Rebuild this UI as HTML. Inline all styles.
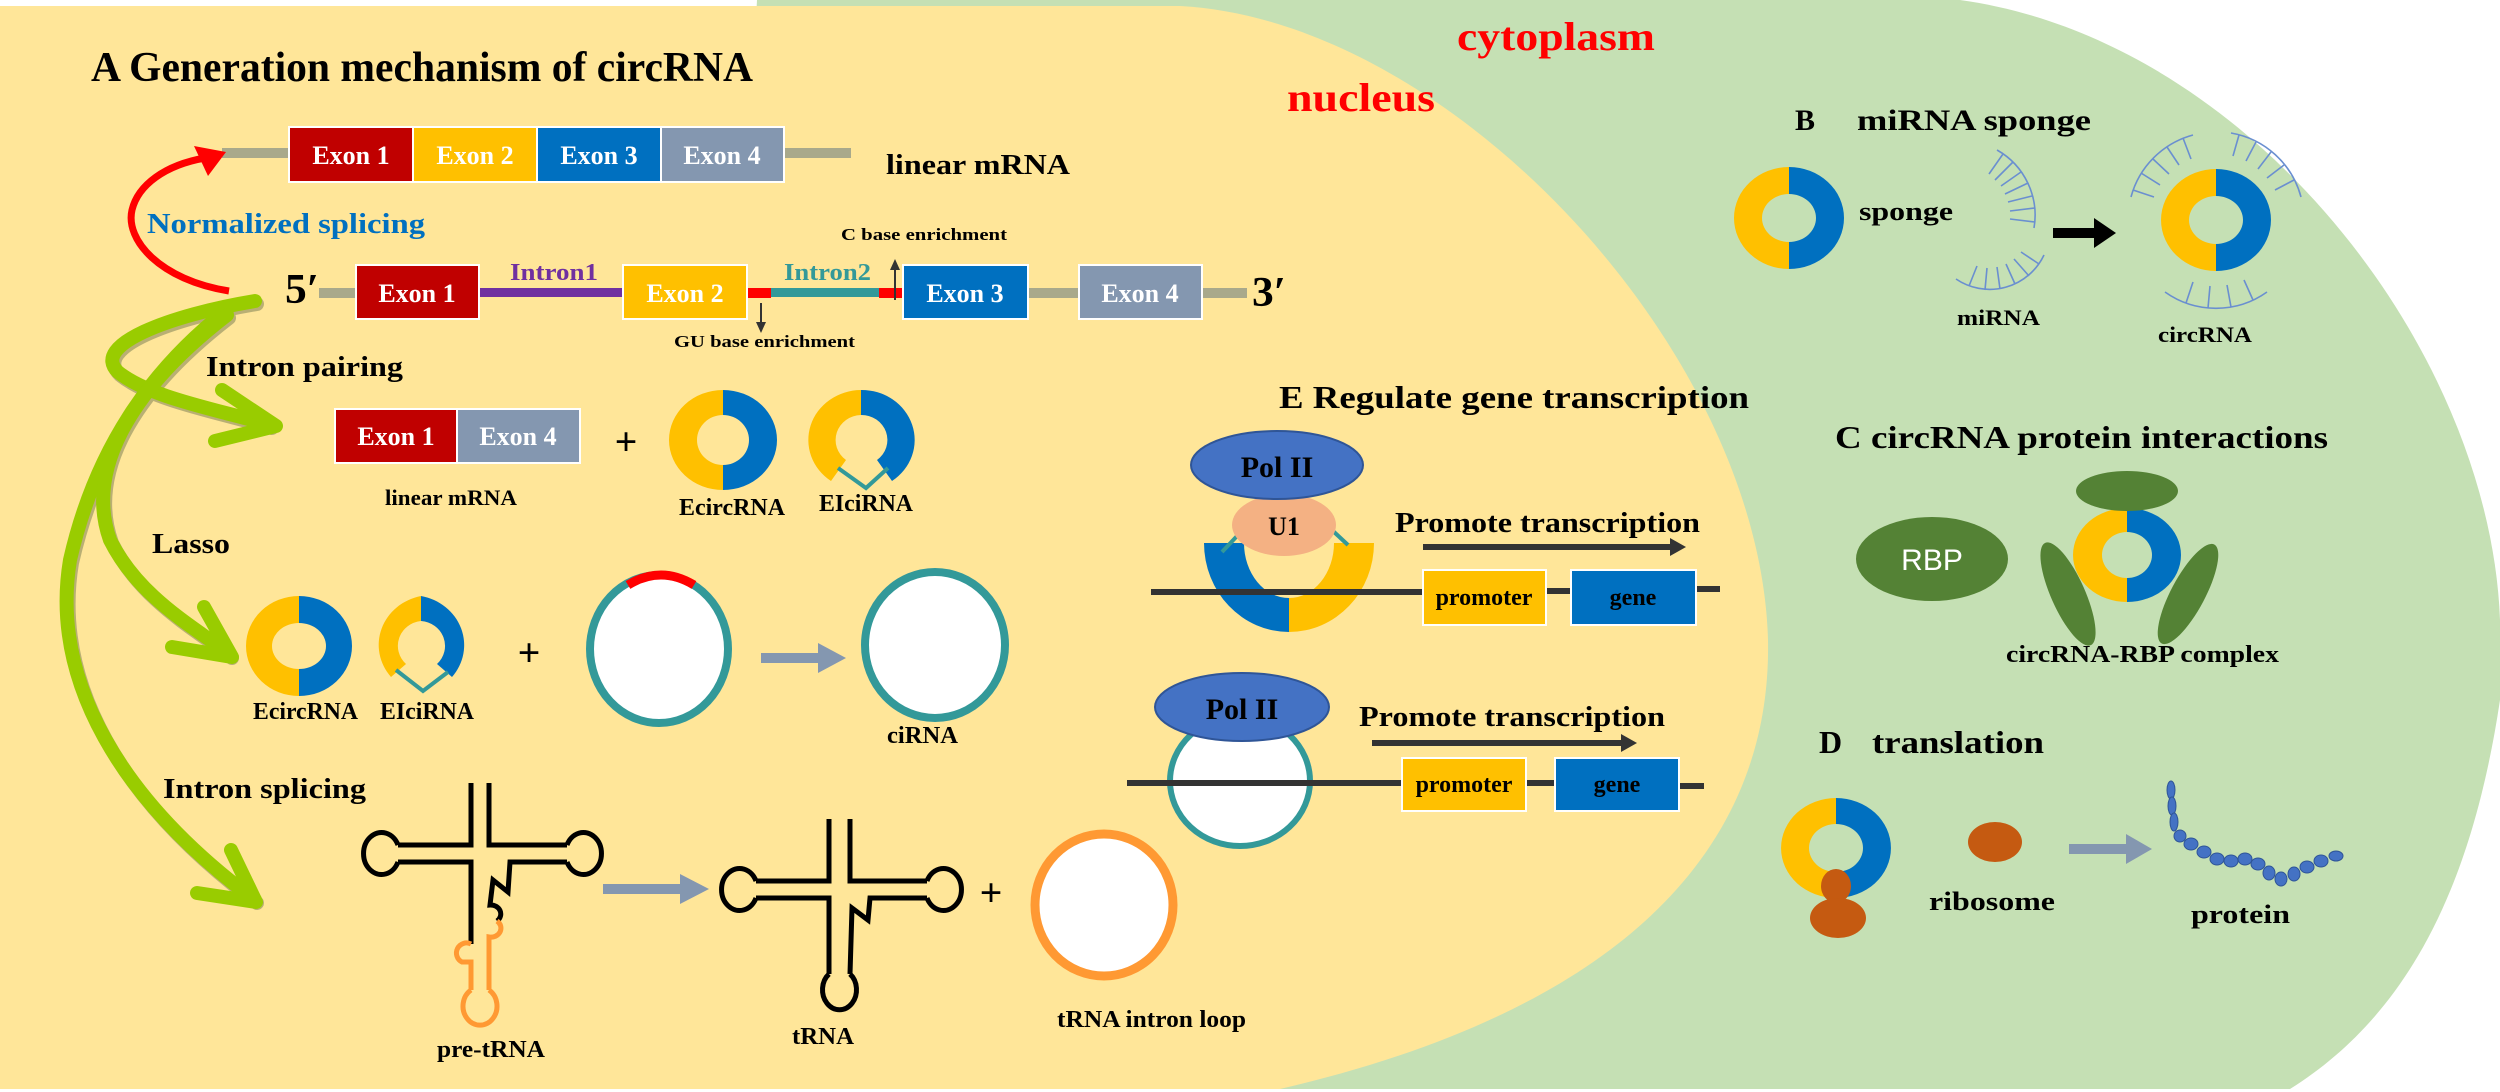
<!DOCTYPE html>
<html><head><meta charset="utf-8"><style>
html,body{margin:0;padding:0;background:#fff;}
svg{display:block;}
text{font-family:"Liberation Serif",serif;font-weight:bold;}
</style></head><body>
<svg width="2500" height="1092" viewBox="0 0 2500 1092" xmlns="http://www.w3.org/2000/svg">
<rect width="2500" height="1092" fill="#fff"/>
<!-- green -->
<path d="M757,0 L1960,0 C2250,40 2490,350 2500,620 L2500,700 C2470,900 2400,1020 2290,1089 L700,1089 Z" fill="#C5E0B4"/>
<!-- yellow -->
<path d="M0,6 L1180,6 C1450,20 1760,350 1768,640 C1772,850 1620,1010 1280,1089 L0,1089 Z" fill="#FFE699"/>

<g text-anchor="start" lengthAdjust="spacingAndGlyphs">
<text x="91" y="81" font-size="42" textLength="662" lengthAdjust="spacingAndGlyphs">A Generation mechanism of circRNA</text>
<text x="1457" y="50" font-size="40" fill="#FF0000" textLength="198" lengthAdjust="spacingAndGlyphs">cytoplasm</text>
<text x="1287" y="111" font-size="40" fill="#FF0000" textLength="148" lengthAdjust="spacingAndGlyphs">nucleus</text>
</g>

<!-- top linear mRNA -->
<rect x="222" y="148" width="67" height="10" fill="#A9A98B"/>
<rect x="784" y="148" width="67" height="10" fill="#A9A98B"/>
<g stroke="#fff" stroke-width="2">
<rect x="289" y="127" width="124" height="55" fill="#C00000"/>
<rect x="413" y="127" width="124" height="55" fill="#FFC000"/>
<rect x="537" y="127" width="124" height="55" fill="#0070C0"/>
<rect x="661" y="127" width="123" height="55" fill="#8497B0"/>
</g>
<g fill="#fff" font-size="26" text-anchor="middle">
<text x="351" y="164" font-family="Liberation Serif" font-weight="bold">Exon 1</text>
<text x="475" y="164">Exon 2</text>
<text x="599" y="164">Exon 3</text>
<text x="722" y="164">Exon 4</text>
</g>
<text x="886" y="174" font-size="28" textLength="184" lengthAdjust="spacingAndGlyphs">linear mRNA</text>

<!-- red arrow -->
<path d="M229,291 C160,280 125,240 132,210 C138,185 165,165 205,158" fill="none" stroke="#FF0000" stroke-width="7"/>
<polygon points="226,152 194,146 208,176" fill="#FF0000"/>
<text x="147" y="233" font-size="28" fill="#0070C0" textLength="278" lengthAdjust="spacingAndGlyphs">Normalized splicing</text>

<!-- second row -->
<text x="285" y="303" font-size="42" textLength="34" lengthAdjust="spacingAndGlyphs">5′</text>
<rect x="319" y="288" width="37" height="10" fill="#A9A98B"/>
<rect x="479" y="288" width="144" height="9" fill="#7030A0"/>
<rect x="747" y="288" width="24" height="10" fill="#FF0000"/>
<rect x="771" y="288" width="108" height="9" fill="#339999"/>
<rect x="879" y="288" width="24" height="10" fill="#FF0000"/>
<rect x="1028" y="288" width="51" height="10" fill="#A9A98B"/>
<rect x="1202" y="288" width="45" height="10" fill="#A9A98B"/>
<g stroke="#fff" stroke-width="2">
<rect x="356" y="265" width="123" height="54" fill="#C00000"/>
<rect x="623" y="265" width="124" height="54" fill="#FFC000"/>
<rect x="903" y="265" width="125" height="54" fill="#0070C0"/>
<rect x="1079" y="265" width="123" height="54" fill="#8497B0"/>
</g>
<g fill="#fff" font-size="26" text-anchor="middle">
<text x="417" y="302">Exon 1</text>
<text x="685" y="302">Exon 2</text>
<text x="965" y="302">Exon 3</text>
<text x="1140" y="302">Exon 4</text>
</g>
<text x="1252" y="306" font-size="42" textLength="34" lengthAdjust="spacingAndGlyphs">3′</text>
<text x="510" y="280" font-size="24" fill="#7030A0" textLength="88" lengthAdjust="spacingAndGlyphs">Intron1</text>
<text x="784" y="280" font-size="24" fill="#339999" textLength="87" lengthAdjust="spacingAndGlyphs">Intron2</text>
<text x="841" y="240" font-size="17" textLength="166" lengthAdjust="spacingAndGlyphs">C base enrichment</text>
<text x="674" y="347" font-size="17" textLength="181" lengthAdjust="spacingAndGlyphs">GU base enrichment</text>
<line x1="895" y1="300" x2="895" y2="268" stroke="#333" stroke-width="2"/>
<polygon points="895,259 890,270 900,270" fill="#333"/>
<line x1="761" y1="303" x2="761" y2="324" stroke="#333" stroke-width="2"/>
<polygon points="761,333 756,322 766,322" fill="#333"/>

<!-- green arrows -->
<g fill="none" stroke="#8C8C5C" stroke-width="14" stroke-linecap="round" stroke-linejoin="round" transform="translate(2,3)" opacity="0.6">
<path d="M255,301 C170,315 90,345 118,372 C150,398 220,410 270,425"/>
<path d="M227,310 C150,370 95,450 70,560 C50,680 120,800 255,900"/>
<path d="M227,315 C130,390 85,470 110,540 C140,600 200,630 230,655"/>
</g>
<g fill="none" stroke="#99CC00" stroke-width="14" stroke-linecap="round" stroke-linejoin="round">
<path d="M255,301 C170,315 90,345 118,372 C150,398 220,410 270,425"/>
<polyline points="222,390 276,426 215,441"/>
<path d="M227,310 C150,370 95,450 70,560 C50,680 120,800 255,900"/>
<polyline points="231,850 256,902 197,893"/>
<path d="M227,315 C130,390 85,470 110,540 C140,600 200,630 230,655"/>
<polyline points="204,607 232,657 172,647"/>
</g>

<text x="206" y="376" font-size="28" textLength="197" lengthAdjust="spacingAndGlyphs">Intron pairing</text>
<g stroke="#fff" stroke-width="2">
<rect x="335" y="409" width="122" height="54" fill="#C00000"/>
<rect x="457" y="409" width="123" height="54" fill="#8497B0"/>
</g>
<g fill="#fff" font-size="26" text-anchor="middle">
<text x="396" y="445">Exon 1</text>
<text x="518" y="445">Exon 4</text>
</g>
<text x="626" y="455" font-size="40" text-anchor="middle">+</text>
<!-- EcircRNA -->
<path d="M723,390 A54 50 0 0 0 723,490 L723,465 A26 25 0 0 1 723,415 Z" fill="#FFC000"/>
<path d="M723,390 A54 50 0 0 1 723,490 L723,465 A26 25 0 0 0 723,415 Z" fill="#0070C0"/>
<!-- EIciRNA -->
<path d="M861,390 A53 50 0 0 0 831,481 L846,460 A26 25 0 0 1 861,415 Z" fill="#FFC000"/>
<path d="M861,390 A53 50 0 0 1 892,481 L877,460 A26 25 0 0 0 861,415 Z" fill="#0070C0"/>
<polyline points="838,468 866,488 888,468" fill="none" stroke="#339999" stroke-width="4"/>
<text x="385" y="505" font-size="22" textLength="132" lengthAdjust="spacingAndGlyphs">linear mRNA</text>
<text x="679" y="515" font-size="24" textLength="106" lengthAdjust="spacingAndGlyphs">EcircRNA</text>
<text x="819" y="511" font-size="24" textLength="94" lengthAdjust="spacingAndGlyphs">EIciRNA</text>

<!-- Lasso -->
<text x="152" y="553" font-size="28" textLength="78" lengthAdjust="spacingAndGlyphs">Lasso</text>
<path d="M299,596 A53 50 0 0 0 299,696 L299,669 A27 23 0 0 1 299,623 Z" fill="#FFC000"/>
<path d="M299,596 A53 50 0 0 1 299,696 L299,669 A27 23 0 0 0 299,623 Z" fill="#0070C0"/>
<path d="M421,596 A53 50 0 0 0 391,677 L406,664 A26 25 0 0 1 421,621 Z" fill="#FFC000"/>
<path d="M421,596 A53 50 0 0 1 452,677 L437,664 A26 25 0 0 0 421,621 Z" fill="#0070C0"/>
<polyline points="396,670 423,691 448,672" fill="none" stroke="#339999" stroke-width="4"/>
<text x="253" y="719" font-size="24" textLength="105" lengthAdjust="spacingAndGlyphs">EcircRNA</text>
<text x="380" y="719" font-size="24" textLength="94" lengthAdjust="spacingAndGlyphs">EIciRNA</text>
<text x="529" y="666" font-size="40" text-anchor="middle">+</text>
<ellipse cx="659" cy="649" rx="69" ry="74" fill="#fff" stroke="#339999" stroke-width="8"/>
<path d="M628,585 Q661,565 694,585" fill="none" stroke="#FF0000" stroke-width="9"/>
<rect x="761" y="653" width="60" height="10" fill="#8497B0"/>
<polygon points="818,643 846,658 818,673" fill="#8497B0"/>
<ellipse cx="935" cy="645" rx="70" ry="73" fill="#fff" stroke="#339999" stroke-width="8"/>
<text x="887" y="743" font-size="24" textLength="71" lengthAdjust="spacingAndGlyphs">ciRNA</text>

<!-- intron splicing -->
<text x="163" y="798" font-size="28" textLength="203" lengthAdjust="spacingAndGlyphs">Intron splicing</text>
<g fill="none" stroke="#000" stroke-width="5" stroke-linejoin="miter">
<path d="M471,783 L471,845 L398,845"/>
<path d="M398,845 A18 21 0 1 0 398,862"/>
<path d="M398,862 L471,862 L471,944"/>
<path d="M489,783 L489,845 L567,845"/>
<path d="M567,845 A18 21 0 1 1 567,862"/>
<path d="M567,862 L510,862 L508,892 L493,880 L490,905 A10 9 0 0 1 497,921"/>
</g>
<g fill="none" stroke="#FF9933" stroke-width="5">
<path d="M497,921 A10 9 0 0 1 489,937 L489,990"/>
<path d="M471,944 A9 9 0 0 0 462,962 L471,962 L471,990"/>
<path d="M471,990 A17 19 0 1 0 489,990"/>
</g>
<rect x="603" y="884" width="80" height="10" fill="#8497B0"/>
<polygon points="680,874 709,889 680,904" fill="#8497B0"/>
<g fill="none" stroke="#000" stroke-width="5">
<path d="M829,819 L829,881 L756,881"/>
<path d="M756,881 A18 21 0 1 0 756,898"/>
<path d="M756,898 L829,898 L829,974"/>
<path d="M850,819 L850,881 L927,881"/>
<path d="M927,881 A18 21 0 1 1 927,898"/>
<path d="M927,898 L870,898 L868,920 L852,908 L850,974"/>
<path d="M829,974 A17 20 0 1 0 850,974"/>
</g>
<text x="991" y="906" font-size="40" text-anchor="middle">+</text>
<ellipse cx="1104" cy="905" rx="69" ry="71" fill="#fff" stroke="#FF9933" stroke-width="9"/>
<text x="437" y="1057" font-size="24" textLength="108" lengthAdjust="spacingAndGlyphs">pre-tRNA</text>
<text x="792" y="1044" font-size="24" textLength="62" lengthAdjust="spacingAndGlyphs">tRNA</text>
<text x="1057" y="1027" font-size="24" textLength="189" lengthAdjust="spacingAndGlyphs">tRNA intron loop</text>

<!-- E -->
<text x="1279" y="408" font-size="32" textLength="470" lengthAdjust="spacingAndGlyphs">E Regulate gene transcription</text>
<path d="M1204,543 A85 89 0 0 0 1289,632 L1289,598 A45 55 0 0 1 1244,543 Z" fill="#0070C0"/>
<path d="M1374,543 A85 89 0 0 1 1289,632 L1289,598 A45 55 0 0 0 1334,543 Z" fill="#FFC000"/>
<line x1="1222" y1="552" x2="1238" y2="535" stroke="#339999" stroke-width="4"/>
<line x1="1333" y1="531" x2="1348" y2="545" stroke="#339999" stroke-width="4"/>
<ellipse cx="1284" cy="525" rx="52" ry="31" fill="#F4B183"/>
<ellipse cx="1277" cy="465" rx="86" ry="34" fill="#4472C4" stroke="#2F5597" stroke-width="2"/>
<text x="1277" y="477" font-size="30" text-anchor="middle">Pol II</text>
<text x="1284" y="535" font-size="26" text-anchor="middle">U1</text>
<rect x="1151" y="589" width="272" height="6" fill="#333"/>
<rect x="1546" y="588" width="25" height="6" fill="#333"/>
<rect x="1696" y="586" width="24" height="6" fill="#333"/>
<rect x="1423" y="570" width="123" height="55" fill="#FFC000" stroke="#fff" stroke-width="2"/>
<rect x="1571" y="570" width="125" height="55" fill="#0070C0" stroke="#fff" stroke-width="2"/>
<text x="1484" y="605" font-size="24" text-anchor="middle">promoter</text>
<text x="1633" y="605" font-size="24" text-anchor="middle">gene</text>
<text x="1395" y="532" font-size="28" textLength="305" lengthAdjust="spacingAndGlyphs">Promote transcription</text>
<rect x="1423" y="544" width="250" height="6" fill="#333"/>
<polygon points="1670,538 1686,547 1670,556" fill="#333"/>

<ellipse cx="1240" cy="781" rx="70" ry="65" fill="#fff" stroke="#339999" stroke-width="6"/>
<ellipse cx="1242" cy="707" rx="87" ry="34" fill="#4472C4" stroke="#2F5597" stroke-width="2"/>
<text x="1242" y="719" font-size="30" text-anchor="middle">Pol II</text>
<rect x="1127" y="780" width="275" height="6" fill="#333"/>
<rect x="1526" y="780" width="29" height="6" fill="#333"/>
<rect x="1679" y="783" width="25" height="6" fill="#333"/>
<rect x="1402" y="758" width="124" height="53" fill="#FFC000" stroke="#fff" stroke-width="2"/>
<rect x="1555" y="758" width="124" height="53" fill="#0070C0" stroke="#fff" stroke-width="2"/>
<text x="1464" y="792" font-size="24" text-anchor="middle">promoter</text>
<text x="1617" y="792" font-size="24" text-anchor="middle">gene</text>
<text x="1359" y="726" font-size="28" textLength="306" lengthAdjust="spacingAndGlyphs">Promote transcription</text>
<rect x="1372" y="740" width="252" height="6" fill="#333"/>
<polygon points="1621,734 1637,743 1621,752" fill="#333"/>

<!-- B -->
<text x="1795" y="130" font-size="30">B</text>
<text x="1857" y="130" font-size="30" textLength="234" lengthAdjust="spacingAndGlyphs">miRNA sponge</text>
<path d="M1789,167 A55 51 0 0 0 1789,269 L1789,242 A27 24 0 0 1 1789,194 Z" fill="#FFC000"/>
<path d="M1789,167 A55 51 0 0 1 1789,269 L1789,242 A27 24 0 0 0 1789,194 Z" fill="#0070C0"/>
<text x="1859" y="220" font-size="26" textLength="94" lengthAdjust="spacingAndGlyphs">sponge</text>
<g fill="none" stroke="#6A8FD0" stroke-width="1.6">
<path d="M1997,150 A75 75 0 0 1 2034,228"/>
<path d="M2003,154 L1989,174 M2013,162 L1995,180 M2021,172 L2001,186 M2028,183 L2005,194 M2032,196 L2008,202 M2035,208 L2010,211 M2035,222 L2010,219"/>
<path d="M2044,255 A60 60 0 0 1 1956,279"/>
<path d="M2039,264 L2021,252 M2029,276 L2014,259 M2015,284 L2006,264 M2000,289 L1997,267 M1985,290 L1987,268 M1969,286 L1977,266"/>
<path d="M2131,197 A88 88 0 0 1 2193,135"/>
<path d="M2133,190 L2154,197 M2141,173 L2160,185 M2153,159 L2169,174 M2167,147 L2179,165 M2183,138 L2191,159"/>
<path d="M2231,133 A88 88 0 0 1 2301,197"/>
<path d="M2239,135 L2233,156 M2256,142 L2246,161 M2271,152 L2258,169 M2284,165 L2267,178 M2294,180 L2275,190"/>
<path d="M2267,292 A88 88 0 0 1 2165,292"/>
<path d="M2253,300 L2244,280 M2231,307 L2227,285 M2208,308 L2210,286 M2186,303 L2193,282"/>
</g>
<rect x="2053" y="228" width="44" height="10" fill="#000"/>
<polygon points="2094,218 2116,233 2094,248" fill="#000"/>
<path d="M2216,169 A55 51 0 0 0 2216,271 L2216,244 A27 24 0 0 1 2216,196 Z" fill="#FFC000"/>
<path d="M2216,169 A55 51 0 0 1 2216,271 L2216,244 A27 24 0 0 0 2216,196 Z" fill="#0070C0"/>
<text x="1957" y="325" font-size="22" textLength="83" lengthAdjust="spacingAndGlyphs">miRNA</text>
<text x="2158" y="342" font-size="22" textLength="94" lengthAdjust="spacingAndGlyphs">circRNA</text>

<!-- C -->
<text x="1835" y="448" font-size="32" textLength="493" lengthAdjust="spacingAndGlyphs">C circRNA protein interactions</text>
<ellipse cx="1932" cy="559" rx="76" ry="42" fill="#548235"/>
<text x="1932" y="570" font-size="30" fill="#fff" text-anchor="middle" style="font-family:'Liberation Sans',sans-serif;font-weight:normal">RBP</text>
<path d="M2127,508 A54 47 0 0 0 2127,602 L2127,578 A25 23 0 0 1 2127,532 Z" fill="#FFC000"/>
<path d="M2127,508 A54 47 0 0 1 2127,602 L2127,578 A25 23 0 0 0 2127,532 Z" fill="#0070C0"/>
<ellipse cx="2127" cy="491" rx="51" ry="20" fill="#548235"/>
<ellipse cx="2068" cy="594" rx="17" ry="56" fill="#548235" transform="rotate(-24 2068 594)"/>
<ellipse cx="2188" cy="594" rx="17" ry="56" fill="#548235" transform="rotate(28 2188 594)"/>
<text x="2006" y="662" font-size="24" textLength="273" lengthAdjust="spacingAndGlyphs">circRNA-RBP complex</text>

<!-- D -->
<text x="1819" y="753" font-size="32">D</text>
<text x="1872" y="753" font-size="32" textLength="172" lengthAdjust="spacingAndGlyphs">translation</text>
<path d="M1836,798 A55 50 0 0 0 1836,898 L1836,872 A27 24 0 0 1 1836,824 Z" fill="#FFC000"/>
<path d="M1836,798 A55 50 0 0 1 1836,898 L1836,872 A27 24 0 0 0 1836,824 Z" fill="#0070C0"/>
<ellipse cx="1836" cy="886" rx="15" ry="17" fill="#C55A11"/>
<ellipse cx="1838" cy="918" rx="28" ry="20" fill="#C55A11"/>
<ellipse cx="1995" cy="842" rx="27" ry="20" fill="#C55A11"/>
<text x="1929" y="910" font-size="26" textLength="126" lengthAdjust="spacingAndGlyphs">ribosome</text>
<rect x="2069" y="844" width="60" height="10" fill="#8497B0"/>
<polygon points="2126,834 2152,849 2126,864" fill="#8497B0"/>
<g fill="#4472C4" stroke="#2F5597" stroke-width="1">
<ellipse cx="2171" cy="790" rx="4" ry="9"/>
<ellipse cx="2172" cy="806" rx="4" ry="9"/>
<ellipse cx="2174" cy="822" rx="4" ry="9"/>
<ellipse cx="2180" cy="836" rx="6" ry="6"/>
<ellipse cx="2191" cy="844" rx="7" ry="6"/>
<ellipse cx="2204" cy="852" rx="7" ry="6"/>
<ellipse cx="2217" cy="859" rx="7" ry="6"/>
<ellipse cx="2231" cy="861" rx="7" ry="6"/>
<ellipse cx="2245" cy="859" rx="7" ry="6"/>
<ellipse cx="2258" cy="864" rx="7" ry="6"/>
<ellipse cx="2269" cy="873" rx="6" ry="7"/>
<ellipse cx="2281" cy="879" rx="6" ry="7"/>
<ellipse cx="2294" cy="874" rx="6" ry="7"/>
<ellipse cx="2307" cy="867" rx="7" ry="6"/>
<ellipse cx="2321" cy="861" rx="7" ry="6"/>
<ellipse cx="2336" cy="856" rx="7" ry="5"/>
</g>
<text x="2191" y="923" font-size="26" textLength="99" lengthAdjust="spacingAndGlyphs">protein</text>
</svg>
</body></html>
